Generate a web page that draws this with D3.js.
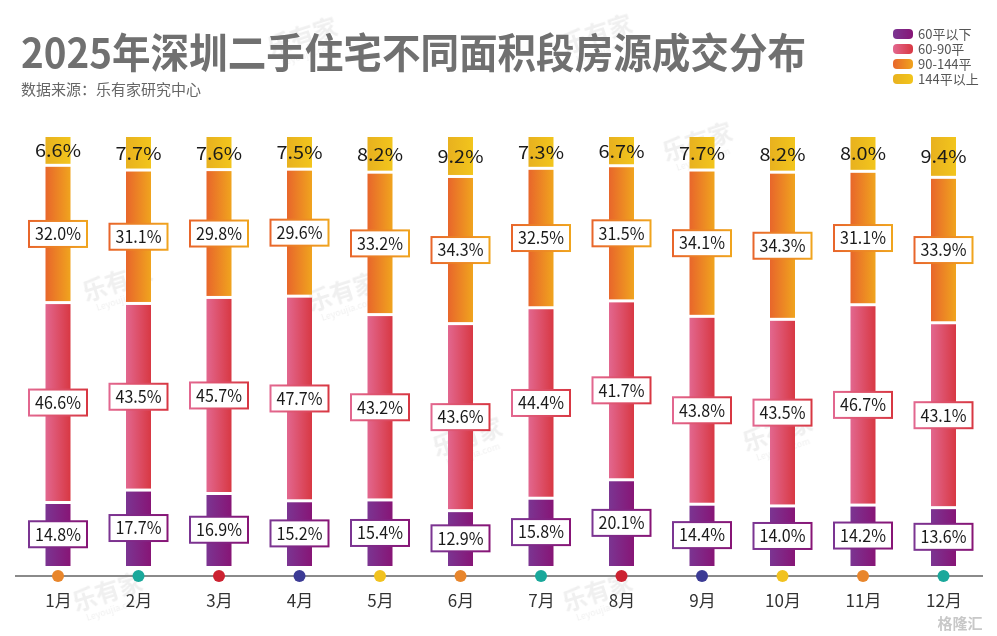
<!DOCTYPE html>
<html lang="zh">

<head>
    <meta charset="UTF-8">
    <title>2025年深圳二手住宅不同面积段房源成交分布</title>
    <script src="https://d3js.org/d3.v7.min.js"></script>
    <style>
        body {
            margin: 0;
            background: #fff;
        }

        svg {
            display: block;
        }

        text {
            font-family: "Noto Sans CJK SC", "Noto Sans", sans-serif;
        }
    </style>
</head>

<body>
    <script>

        const months = ["1月", "2月", "3月", "4月", "5月", "6月", "7月", "8月", "9月", "10月", "11月", "12月"]
        const seriesNames = ["60平以下", "60-90平", "90-144平", "144平以上"]
        const below60 = [14.8, 17.7, 16.9, 15.2, 15.4, 12.9, 15.8, 20.1, 14.4, 14.0, 14.2, 13.6]
        const from60to90 = [46.6, 43.5, 45.7, 47.7, 43.2, 43.6, 44.4, 41.7, 43.8, 43.5, 46.7, 43.1]
        const from90to144 = [32.0, 31.1, 29.8, 29.6, 33.2, 34.3, 32.5, 31.5, 34.1, 34.3, 31.1, 33.9]
        const above144 = [6.6, 7.7, 7.6, 7.5, 8.2, 9.2, 7.3, 6.7, 7.7, 8.2, 8.0, 9.4]

        // gradient stops (left, right) per series
        const gradColors = [
            ["#7b3592", "#871576"],
            ["#e2678f", "#d83843"],
            ["#e8662b", "#f0a41e"],
            ["#e8b11f", "#f2c51c"]
        ]
        const dotColors = ["#e8862c", "#1aa89b", "#cc2231", "#3c3b95", "#f1c21f"]

        const width = 997
        const height = 636

        const svg = d3.select("body").append("svg")
            .attr("width", width)
            .attr("height", height)

        const defs = svg.append("defs")
        gradColors.forEach((c, i) => {
            let g = defs.append("linearGradient")
                .attr("id", "grad" + i)
                .attr("x1", "0%").attr("x2", "100%")
                .attr("y1", "0%").attr("y2", "0%")
            g.append("stop").attr("offset", "0%").attr("stop-color", c[0])
            g.append("stop").attr("offset", "100%").attr("stop-color", c[1])
        })

        // watermarks
        const marks = [[305, 45], [600, 42], [120, 290], [345, 300], [470, 445], [700, 150], [110, 600], [600, 600], [780, 440]]
        const wm = svg.append("g").attr("opacity", 0.13)
        marks.forEach(m => {
            let g = wm.append("g").attr("transform", `translate(${m[0]},${m[1]}) rotate(-18)`)
            g.append("text").text("乐有家")
                .attr("text-anchor", "middle")
                .attr("font-size", 24).attr("font-weight", "bold")
                .attr("fill", "#888")
            g.append("text").text("Leyoujia.com")
                .attr("text-anchor", "middle")
                .attr("y", 13)
                .attr("font-size", 9)
                .attr("fill", "#888")
        })

        // title
        svg.append("text")
            .text("2025年深圳二手住宅不同面积段房源成交分布")
            .attr("x", 21).attr("y", 68)
            .attr("font-size", 41)
            .attr("font-weight", "bold")
            .attr("fill", "#707070")
            .attr("textLength", 785)
            .attr("lengthAdjust", "spacingAndGlyphs")

        svg.append("text")
            .text("数据来源：乐有家研究中心")
            .attr("x", 21).attr("y", 95)
            .attr("font-size", 15)
            .attr("fill", "#666")

        // legend
        let legend = svg.append("g").attr("transform", "translate(893,29)")
        seriesNames.forEach((s, i) => {
            legend.append("rect")
                .attr("x", 0).attr("y", i * 15)
                .attr("width", 20).attr("height", 10)
                .attr("rx", 4)
                .attr("fill", `url(#grad${i})`)
            legend.append("text")
                .text(s)
                .attr("x", 25).attr("y", i * 15 + 10)
                .attr("font-size", 13)
                .attr("fill", "#555")
        })

        // scales
        const x = d3.scalePoint().domain(months).range([58, 943.5])
        const y = d3.scaleLinear().domain([0, 100]).range([566, 137])
        const barW = 25
        const gap = 1.5

        const table = months.map((m, i) => ({
            month: m,
            s0: below60[i], s1: from60to90[i], s2: from90to144[i], s3: above144[i]
        }))
        const keys = ["s0", "s1", "s2", "s3"]
        const stacked = d3.stack().keys(keys)(table)

        const fmt = d3.format(".1f")

        // bars
        let gBars = svg.append("g")
        stacked.forEach((layer, li) => {
            gBars.selectAll(null)
                .data(layer)
                .enter()
                .append("rect")
                .attr("x", d => x(d.data.month) - barW / 2)
                .attr("width", barW)
                .attr("y", d => y(d[1]) + (li < 3 ? gap : 0))
                .attr("height", d => y(d[0]) - y(d[1]) - (li < 3 ? gap : 0) - (li > 0 ? gap : 0))
                .attr("fill", `url(#grad${li})`)
        })

        // labels
        let gLabels = svg.append("g")
        stacked.forEach((layer, li) => {
            let lab = gLabels.selectAll(null)
                .data(layer)
                .enter()
                .append("g")
                .attr("transform", d => `translate(${x(d.data.month)},${(y(d[0]) + y(d[1])) / 2})`)
            if (li < 3) {
                lab.append("rect")
                    .attr("x", -29).attr("y", -13)
                    .attr("width", 58).attr("height", 26)
                    .attr("fill", "#fff")
                    .attr("stroke", `url(#grad${li})`)
                    .attr("stroke-width", 2)
            }
            lab.append("text")
                .text(d => fmt(d[1] - d[0]) + "%")
                .attr("dy", "0.36em")
                .attr("x", -23)
                .attr("text-anchor", "start")
                .attr("font-size", 17.5)
                .attr("fill", "#1a1a1a")
                .attr("textLength", 46)
                .attr("lengthAdjust", "spacingAndGlyphs")
        })

        // axis
        svg.append("line")
            .attr("x1", 15).attr("x2", 983)
            .attr("y1", 576).attr("y2", 576)
            .attr("stroke", "#8a8a8a")
            .attr("stroke-width", 2)

        svg.append("g").selectAll("circle")
            .data(months)
            .enter()
            .append("circle")
            .attr("cx", d => x(d))
            .attr("cy", 576)
            .attr("r", 6)
            .attr("fill", (d, i) => dotColors[i % dotColors.length])

        let gAxis = svg.append("g")
            .attr("transform", "translate(0,593)")
            .call(d3.axisBottom(x).tickSize(0).tickPadding(2))
        gAxis.select(".domain").remove()
        gAxis.selectAll("text")
            .attr("font-family", "\"Noto Sans CJK SC\", sans-serif")
            .attr("font-size", 17)
            .attr("fill", "#333")

        // corner logo
        svg.append("text")
            .text("格隆汇")
            .attr("x", 960).attr("y", 629)
            .attr("text-anchor", "middle")
            .attr("font-size", 15)
            .attr("font-weight", "bold")
            .attr("fill", "#c8c8c8")

    </script>
</body>

</html>
